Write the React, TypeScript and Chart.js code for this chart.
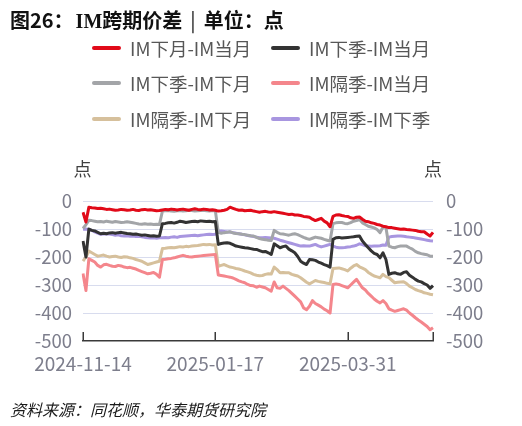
import { useEffect, useRef } from "react";
import { Chart, registerables } from "chart.js";

Chart.register(...registerables);

const dates = [
  "2024-11-14","2024-11-15","2024-11-18","2024-11-19","2024-11-20","2024-11-21","2024-11-22","2024-11-25","2024-11-26","2024-11-27","2024-11-28","2024-11-29",
  "2024-12-02","2024-12-03","2024-12-04","2024-12-05","2024-12-06","2024-12-09","2024-12-10","2024-12-11","2024-12-12","2024-12-13","2024-12-16","2024-12-17","2024-12-18","2024-12-19","2024-12-20","2024-12-23","2024-12-24","2024-12-25","2024-12-26","2024-12-27","2024-12-30","2024-12-31",
  "2025-01-02","2025-01-03","2025-01-06","2025-01-07","2025-01-08","2025-01-09","2025-01-10","2025-01-13","2025-01-14","2025-01-15","2025-01-16","2025-01-17","2025-01-20","2025-01-21","2025-01-22","2025-01-23","2025-01-24","2025-01-27",
  "2025-02-05","2025-02-06","2025-02-07","2025-02-10","2025-02-11","2025-02-12","2025-02-13","2025-02-14","2025-02-17","2025-02-18","2025-02-19","2025-02-20","2025-02-21","2025-02-24","2025-02-25","2025-02-26","2025-02-27","2025-02-28",
  "2025-03-03","2025-03-04","2025-03-05","2025-03-06","2025-03-07","2025-03-10","2025-03-11","2025-03-12","2025-03-13","2025-03-14","2025-03-17","2025-03-18","2025-03-19","2025-03-20","2025-03-21","2025-03-24","2025-03-25","2025-03-26","2025-03-27","2025-03-28","2025-03-31",
  "2025-04-01","2025-04-02","2025-04-03","2025-04-07","2025-04-08","2025-04-09","2025-04-10","2025-04-11","2025-04-14","2025-04-15","2025-04-16","2025-04-17","2025-04-18","2025-04-21","2025-04-22","2025-04-23","2025-04-24","2025-04-25","2025-04-28","2025-04-29","2025-04-30",
  "2025-05-06","2025-05-07","2025-05-08","2025-05-09","2025-05-12","2025-05-13","2025-05-14","2025-05-15",
];

const labelDates = ["2024-11-14", "2025-01-17", "2025-03-31"];
const tickMarkDates = ["2024-11-14", "2025-01-17", "2025-03-31", "2025-05-15"];

const nextMonthVsCurrent = [
  -40,-75,-22,-24,-25,-27,-26,-28,-30,-29,-31,-33,-32,-30,-31,-33,-32,-30,-33,-34,-31,-30,-32,-31,-33,-35,-34,
  -32,-30,-31,-29,-30,-32,-30,-29,-31,-33,-30,-28,-30,-31,-29,-30,-32,-31,-33,
  -36,-35,-33,-30,-22,-26,-30,-33,-32,-35,-34,-33,-36,-38,-40,-38,-37,-39,-40,
  -38,-40,-42,-44,-46,-48,-47,-50,-50,-52,-55,-56,-58,-65,-70,-66,-62,-72,-78,-92,
  -55,-50,-49,-52,-54,-55,-60,-62,-58,-57,-65,-72,-74,-78,-80,-84,-86,-90,-92,
  -95,-95,-97,-99,-101,-100,-102,-103,-104,-105,-108,-110,-110,-118,-125,-112,
];

const nextQuarterVsCurrent = [
  -143,-200,-100,-105,-107,-112,-117,-115,-117,-114,-113,-115,-113,-112,-114,-116,-117,-119,-118,-120,-122,-121,-123,-125,-124,-126,-125,
  -81,-80,-78,-77,-79,-76,-72,-74,-77,-75,-73,-72,-74,-71,-72,-73,-72,-74,-73,
  -155,-152,-150,-149,-151,-156,-161,-163,-165,-167,-168,-170,-172,-173,-177,-181,-180,-185,-191,
  -153,-160,-167,-163,-161,-172,-178,-185,-198,-215,-222,-227,-209,-210,-212,-218,-222,-227,-231,-236,
  -137,-131,-130,-132,-131,-130,-129,-128,-126,-125,-143,-155,-167,-178,-187,-191,-203,-185,-209,
  -262,-258,-256,-260,-262,-255,-253,-265,-272,-280,-286,-289,-295,-300,-312,-302,
];

const nextQuarterVsNextMonth = [
  -98,-85,-69,-70,-72,-74,-73,-75,-72,-74,-76,-73,-75,-77,-76,-74,-76,-78,-80,-82,-83,-81,-83,-82,-84,-83,-84,
  -36,-35,-34,-36,-37,-35,-34,-36,-35,-33,-34,-36,-35,-34,-33,-35,-36,-34,-35,
  -112,-115,-113,-112,-110,-114,-116,-117,-119,-120,-122,-124,-125,-130,-134,-137,-138,-140,-141,
  -105,-112,-117,-118,-120,-122,-119,-117,-120,-125,-130,-134,-137,-133,-129,-131,-133,-137,-140,-143,
  -81,-78,-77,-77,-80,-81,-77,-72,-70,-66,-78,-84,-90,-93,-96,-102,-113,-93,-95,
  -161,-165,-167,-163,-161,-161,-161,-167,-172,-180,-185,-188,-190,-192,-197,-197,
];

const farQuarterVsCurrent = [
  -259,-320,-206,-212,-218,-230,-236,-228,-226,-230,-233,-234,-230,-232,-236,-238,-237,-240,-243,-248,-252,-256,-260,-258,-255,-262,-272,
  -209,-208,-206,-205,-203,-200,-197,-194,-197,-199,-200,-198,-197,-196,-195,-194,-193,-192,-191,
  -264,-266,-268,-270,-272,-275,-280,-285,-289,-292,-298,-302,-303,-308,-304,-307,-310,-316,-322,
  -289,-310,-312,-304,-312,-320,-330,-340,-350,-360,-382,-388,-376,-356,-366,-372,-378,-386,-392,-400,
  -298,-296,-298,-302,-306,-310,-300,-290,-280,-295,-310,-318,-330,-340,-350,-358,-364,-356,-366,
  -385,-390,-394,-391,-388,-385,-390,-400,-408,-417,-425,-432,-440,-448,-460,-453,
];

const farQuarterVsNextMonth = [
  -215,-200,-179,-185,-191,-197,-195,-193,-197,-200,-198,-197,-200,-202,-199,-200,-203,-205,-209,-212,-215,-221,-227,-224,-221,-218,-215,
  -170,-169,-167,-166,-167,-165,-163,-164,-162,-163,-161,-160,-159,-157,-155,-156,-155,-157,-156,
  -233,-230,-227,-232,-236,-238,-241,-243,-246,-250,-253,-257,-262,-265,-267,-266,-262,-260,-261,
  -236,-245,-256,-255,-256,-256,-262,-265,-268,-274,-282,-290,-296,-290,-284,-287,-289,-291,-294,-296,
  -241,-240,-239,-242,-245,-250,-240,-232,-227,-235,-240,-245,-255,-262,-268,-271,-274,-262,-270,
  -274,-283,-292,-290,-289,-288,-295,-304,-310,-316,-320,-323,-328,-330,-333,-335,
];

const farQuarterVsNextQuarter = [
  -101,-100,-102,-105,-110,-115,-119,-118,-117,-118,-120,-122,-121,-124,-125,-124,-126,-125,-127,-126,-128,-130,-131,-132,-131,-133,-131,
  -131,-130,-131,-129,-128,-130,-127,-126,-125,-124,-123,-122,-124,-122,-121,-120,-119,-120,-119,
  -108,-107,-109,-111,-111,-113,-115,-117,-119,-121,-123,-125,-127,-129,-131,-131,-130,-131,-132,
  -133,-136,-140,-143,-146,-149,-152,-155,-158,-161,-160,-161,-161,-158,-155,-160,-164,-161,-158,-155,
  -161,-165,-167,-167,-166,-164,-163,-161,-158,-153,-156,-160,-161,-162,-161,-161,-160,-157,-158,
  -129,-127,-126,-125,-125,-126,-128,-129,-130,-132,-134,-136,-138,-140,-142,-143,
];

const seriesNames = [
  "IM下月-IM当月",
  "IM下季-IM当月",
  "IM下季-IM下月",
  "IM隔季-IM当月",
  "IM隔季-IM下月",
  "IM隔季-IM下季",
];
const seriesValues = [
  nextMonthVsCurrent,
  nextQuarterVsCurrent,
  nextQuarterVsNextMonth,
  farQuarterVsCurrent,
  farQuarterVsNextMonth,
  farQuarterVsNextQuarter,
];
const seriesColors = ["#e10a19", "#333333", "#a3a5a8", "#f4868c", "#d6c09c", "#a896e0"];

const yMin = -500;
const yMax = 0;
const yStep = 100;

const titleText = { prefix: "图26：", latin: "IM", main: "跨期价差", bar: "|", unit: "单位：点" };
const unitText = "点";
const sourceText = "资料来源：同花顺，华泰期货研究院";

const cjkFont = '"Noto Sans CJK SC", "Microsoft YaHei", sans-serif';
const tickColor = "#7d7e8c";

const tickMarksPlugin = {
  id: "tickMarks",
  afterDatasetsDraw(chart: any) {
    const xs = chart.scales.x;
    const { ctx, chartArea } = chart;
    ctx.save();
    ctx.strokeStyle = "#3a3a3a";
    ctx.lineWidth = 1.5;
    tickMarkDates.forEach((d) => {
      const idx = dates.indexOf(d);
      const px = Math.round(xs.getPixelForValue(idx)) + 0.25;
      ctx.beginPath();
      ctx.moveTo(px, chartArea.bottom);
      ctx.lineTo(px, chartArea.bottom - 9);
      ctx.stroke();
    });
    ctx.restore();
  },
};

export default function App() {
  const ref = useRef<HTMLCanvasElement>(null);

  useEffect(() => {
    const labelIdx = labelDates.map((d) => dates.indexOf(d));
    const chart = new Chart(ref.current as HTMLCanvasElement, {
      type: "line",
      data: {
        labels: dates,
        datasets: seriesNames.map((name, i) => ({
          label: name,
          data: seriesValues[i],
          borderColor: seriesColors[i],
          backgroundColor: seriesColors[i],
          borderWidth: 3,
          pointRadius: 0,
          tension: 0,
          fill: false,
          borderJoinStyle: "round" as const,
          yAxisID: "y",
        })),
      },
      options: {
        responsive: false,
        animation: false,
        layout: { padding: { top: 201, left: 0, right: 0, bottom: 0 } },
        plugins: {
          legend: { display: false },
          tooltip: { enabled: false },
          title: { display: false },
        },
        scales: {
          x: {
            type: "category",
            grid: { display: false, drawTicks: false },
            border: { display: true, color: "#3a3a3a", width: 1.5 },
            ticks: {
              autoSkip: false,
              maxRotation: 0,
              minRotation: 0,
              padding: 11,
              color: tickColor,
              font: { family: cjkFont, size: 19 },
              callback: (_v: any, i: number) => (labelIdx.includes(i) ? dates[i] : null),
            },
            afterFit: (s: any) => {
              s.height = 85;
            },
          },
          y: {
            position: "left",
            min: yMin,
            max: yMax,
            ticks: {
              stepSize: yStep,
              padding: 11,
              color: tickColor,
              font: { family: cjkFont, size: 18.5 },
            },
            grid: {
              drawTicks: false,
              lineWidth: 1,
              color: (c: any) => (c.tick && c.tick.value === yMin ? "rgba(0,0,0,0)" : "#d8dcee"),
            },
            border: { display: false },
            afterFit: (s: any) => {
              s.width = 83;
            },
          },
          y2: {
            position: "right",
            min: yMin,
            max: yMax,
            ticks: {
              stepSize: yStep,
              padding: 13,
              color: tickColor,
              font: { family: cjkFont, size: 18.5 },
            },
            grid: { display: false, drawTicks: false },
            border: { display: false },
            afterFit: (s: any) => {
              s.width = 89;
            },
          },
        },
      } as any,
      plugins: [tickMarksPlugin],
    });
    return () => chart.destroy();
  }, []);

  return (
    <div
      style={{
        position: "fixed",
        left: 0,
        top: 0,
        width: 522,
        height: 426,
        background: "#ffffff",
        overflow: "hidden",
        fontFamily: cjkFont,
      }}
    >
      <canvas
        ref={ref}
        width={522}
        height={426}
        style={{ position: "absolute", left: 0, top: 0, width: 522, height: 426 }}
      />
      <div
        style={{
          position: "absolute",
          left: 10,
          top: 8,
          fontSize: 20,
          lineHeight: "24px",
          fontWeight: 700,
          color: "#111",
          whiteSpace: "nowrap",
        }}
      >
        <span>{titleText.prefix}</span>
        <span style={{ fontFamily: '"Liberation Serif", "Times New Roman", serif', marginLeft: 2 }}>
          {titleText.latin}
        </span>
        <span>{titleText.main}</span>
        <span style={{ margin: "0 8px", fontWeight: 400 }}>{titleText.bar}</span>
        <span>{titleText.unit}</span>
      </div>
      <div
        style={{
          position: "absolute",
          left: 92,
          top: 35.5,
          display: "grid",
          gridTemplateColumns: "179px 179px",
          gridAutoRows: "35.7px",
        }}
      >
        {seriesNames.map((name, i) => (
          <div key={name} style={{ display: "flex", alignItems: "center", height: 24 }}>
            <div
              style={{
                width: 29,
                height: 4,
                borderRadius: 2,
                background: seriesColors[i],
                marginRight: 9,
                flex: "none",
              }}
            />
            <span style={{ fontSize: 18.5, lineHeight: "24px", color: "#575757", whiteSpace: "nowrap" }}>
              {name}
            </span>
          </div>
        ))}
      </div>
      <div
        style={{
          position: "absolute",
          left: 67.5,
          top: 155.5,
          width: 30,
          height: 24,
          lineHeight: "24px",
          textAlign: "center",
          fontSize: 18,
          color: "#404040",
        }}
      >
        {unitText}
      </div>
      <div
        style={{
          position: "absolute",
          left: 418,
          top: 155.5,
          width: 30,
          height: 24,
          lineHeight: "24px",
          textAlign: "center",
          fontSize: 18,
          color: "#404040",
        }}
      >
        {unitText}
      </div>
      <div
        style={{
          position: "absolute",
          left: 10,
          top: 396.5,
          height: 24,
          lineHeight: "24px",
          fontSize: 16,
          fontStyle: "italic",
          color: "#1a1a1a",
          whiteSpace: "nowrap",
        }}
      >
        {sourceText}
      </div>
    </div>
  );
}
